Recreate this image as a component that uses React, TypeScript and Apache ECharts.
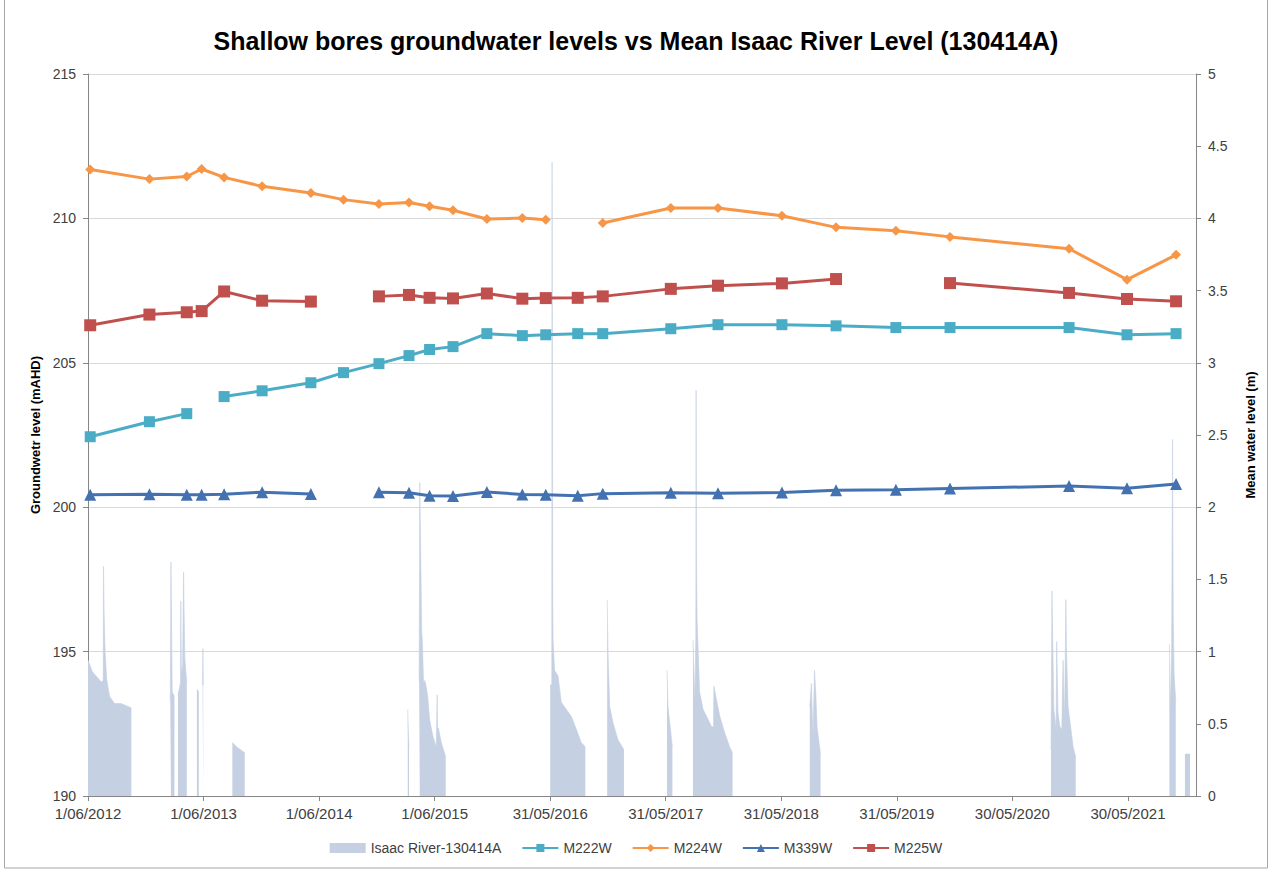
import React, { useEffect, useRef } from "react";
import * as echarts from "echarts";

// Days counted from 1 June 2012 (axis origin)
const BASE_DATE = Date.UTC(2012, 5, 1);
const DAY_MS = 86400000;
const X_MIN_DAY = 0;
const X_MAX_DAY = 3500;
const TICK_DAYS = 365;

const TITLE = "Shallow bores groundwater levels vs Mean Isaac River Level (130414A)";
const LEFT_AXIS_NAME = "Groundwetr level (mAHD)";
const RIGHT_AXIS_NAME = "Mean water level (m)";

const RIVER_NAME = "Isaac River-130414A";
const SERIES_NAMES = ["M222W", "M224W", "M339W", "M225W"];

// Monitoring dates (days since 1/06/2012)
const sampleDays = [7, 194, 312, 359, 430, 550, 704, 807, 919, 1014, 1079, 1153, 1260, 1372, 1446, 1547, 1626, 1841, 1990, 2192, 2363, 2552, 2723, 3099, 3282, 3437];

// Groundwater levels (mAHD)
const m222w = [202.44, 202.96, 203.24, null, 203.83, 204.03, 204.31, 204.66, 204.97, 205.25, 205.46, 205.56, 206.01, 205.94, 205.97, 206.01, 206.01, 206.18, 206.32, 206.32, 206.28, 206.22, 206.22, 206.22, 205.97, 206.01];
const m224w = [211.69, 211.36, 211.45, 211.71, 211.42, 211.11, 210.88, 210.65, 210.5, 210.55, 210.42, 210.28, 209.98, 210.01, 209.95, null, 209.84, 210.36, 210.36, 210.09, 209.69, 209.57, 209.36, 208.95, 207.88, 208.74];
const m339w = [200.43, 200.45, 200.43, 200.43, 200.45, 200.52, 200.46, null, 200.52, 200.5, 200.4, 200.39, 200.53, 200.44, 200.43, 200.4, 200.47, 200.5, 200.48, 200.51, 200.59, 200.6, 200.65, 200.73, 200.66, 200.8];
const m225w = [206.3, 206.67, 206.75, 206.79, 207.47, 207.15, 207.12, null, 207.3, 207.35, 207.25, 207.23, 207.4, 207.22, 207.24, 207.25, 207.3, 207.56, 207.67, 207.75, 207.9, null, 207.76, 207.42, 207.21, 207.13];

// Isaac River mean water level (m): flow events as [day, level]
const riverEvents: [number, number][][] = [
  [[0, 0.94], [14, 0.86], [42, 0.79], [48, 0.8], [49, 1.59], [51, 1.26], [54, 1.0], [59, 0.81], [68, 0.69], [84, 0.64], [105, 0.64], [137, 0.61]],
  [[260, 0.66], [262, 1.62], [264, 1.19], [266, 0.72], [273, 0.69]],
  [[284, 0.7], [290, 0.76], [292, 0.78], [293, 1.35], [295, 0.85], [299, 0.9], [301, 1.36], [302, 1.55], [303, 1.36], [306, 0.95], [312, 0.78]],
  [[344, 0.74], [350, 0.72]],
  [[362, 0.77], [363, 1.02], [364, 0.77]],
  [[456, 0.37], [470, 0.34], [495, 0.3]],
  [[1010, 0.6], [1012, 0.44], [1014, 0.34]],
  [[1046, 0.8], [1048, 2.17], [1049, 1.98], [1051, 1.69], [1054, 1.15], [1056, 1.08], [1060, 0.78], [1064, 0.8], [1069, 0.75], [1074, 0.67], [1079, 0.53], [1090, 0.41], [1100, 0.34], [1102, 0.34], [1103, 0.7], [1104, 0.47], [1107, 0.47], [1116, 0.37], [1130, 0.27]],
  [[1421, 0.28], [1422, 0.28]],
  [[1460, 0.77], [1465, 0.77], [1466, 4.39], [1467, 2.75], [1468, 1.39], [1469, 1.08], [1474, 0.87], [1485, 0.83], [1495, 0.65], [1511, 0.6], [1527, 0.55], [1543, 0.46], [1558, 0.37], [1571, 0.34]],
  [[1614, 0.35], [1615, 0.35]],
  [[1640, 1.36], [1643, 0.97], [1648, 0.62], [1658, 0.51], [1674, 0.39], [1693, 0.32]],
  [[1829, 0.87], [1832, 0.62], [1840, 0.46], [1846, 0.34]],
  [[1911, 1.08], [1917, 0.65], [1920, 1.1], [1921, 2.81], [1922, 1.64], [1924, 1.22], [1932, 0.72], [1943, 0.6], [1959, 0.53], [1970, 0.48], [1976, 0.48], [1977, 0.76], [1985, 0.67], [1996, 0.55], [2011, 0.44], [2027, 0.34], [2036, 0.3]],
  [[2280, 0.62], [2285, 0.78], [2290, 0.41], [2295, 0.87], [2299, 0.71], [2303, 0.48], [2308, 0.39], [2314, 0.29]],
  [[3042, 0.32], [3045, 1.42], [3047, 1.13], [3051, 0.6], [3058, 0.46], [3060, 1.07], [3064, 0.58], [3070, 0.48], [3076, 0.46], [3080, 0.94], [3085, 0.53], [3089, 1.36], [3091, 0.99], [3096, 0.62], [3104, 0.48], [3112, 0.34], [3120, 0.27]],
  [[3416, 1.05], [3419, 0.6], [3423, 0.99], [3426, 2.47], [3428, 1.26], [3431, 0.83], [3436, 0.66]],
  [[3465, 0.29], [3481, 0.29]],
];

const COLORS = {
  river: "#c5d0e3",
  M222W: "#4bacc6",
  M224W: "#f79646",
  M339W: "#4472b0",
  M225W: "#c0504d",
};

const NARROW = "'Liberation Sans Narrow', 'Liberation Sans', Arial, sans-serif";
const SANS = "'Liberation Sans', Arial, sans-serif";

function dayLabel(d: number): string {
  const dt = new Date(BASE_DATE + d * DAY_MS);
  const dd = dt.getUTCDate();
  const mm = String(dt.getUTCMonth() + 1).padStart(2, "0");
  return `${dd}/${mm}/${dt.getUTCFullYear()}`;
}

function pairs(values: (number | null)[]) {
  return sampleDays.map((d, i) => [d, values[i]]);
}

function riverData() {
  const out: any[] = [];
  riverEvents.forEach((ev, i) => {
    if (i > 0) out.push([ev[0][0] - 1, null]);
    ev.forEach((p) => out.push([p[0], p[1]]));
  });
  return out;
}

export default function App() {
  const ref = useRef<HTMLDivElement>(null);

  useEffect(() => {
    if (!ref.current) return;
    const chart = echarts.init(ref.current, null, { renderer: "svg" });

    const lineSeries = (name: string, values: (number | null)[], symbol: string, size: number | number[]) => ({
      name,
      type: "line",
      yAxisIndex: 0,
      data: pairs(values),
      connectNulls: false,
      symbol,
      symbolSize: size,
      showAllSymbol: true,
      color: (COLORS as any)[name],
      lineStyle: { width: 3, color: (COLORS as any)[name] },
      itemStyle: { color: (COLORS as any)[name] },
      z: 3,
    });

    chart.setOption({
      animation: false,
      backgroundColor: "#ffffff",
      title: {
        text: TITLE,
        left: "center",
        top: 23,
        textStyle: { fontFamily: SANS, fontSize: 25, fontWeight: "bold", color: "#000000" },
      },
      graphic: [
        {
          type: "rect",
          silent: true,
          shape: { x: 4.5, y: -1, width: 1263, height: 869 },
          style: { fill: "none", stroke: "#a6a6a6", lineWidth: 1 },
        },
      ],
      legend: {
        bottom: 12,
        left: "center",
        itemWidth: 36,
        itemHeight: 10,
        itemGap: 20,
        textStyle: { fontFamily: NARROW, fontSize: 14, color: "#404040" },
        data: [
          { name: RIVER_NAME, icon: "rect" },
          ...SERIES_NAMES.map((n) => ({ name: n })),
        ],
      },
      grid: { left: 88, right: 76, top: 74, bottom: 76 },
      xAxis: {
        type: "value",
        min: X_MIN_DAY,
        max: X_MAX_DAY,
        interval: TICK_DAYS,
        splitLine: { show: false },
        axisLine: { show: true, lineStyle: { color: "#868686", width: 1 } },
        axisTick: { show: true, inside: false, length: 5, lineStyle: { color: "#868686" } },
        axisLabel: {
          margin: 10,
          fontFamily: NARROW,
          fontSize: 15,
          color: "#404040",
          showMaxLabel: false,
          formatter: (v: number) => (v % TICK_DAYS === 0 ? dayLabel(v) : ""),
        },
      },
      yAxis: [
        {
          type: "value",
          min: 190,
          max: 215,
          interval: 5,
          name: LEFT_AXIS_NAME,
          nameLocation: "middle",
          nameGap: 44,
          nameTextStyle: { fontFamily: SANS, fontSize: 13, fontWeight: "bold", color: "#000000" },
          splitLine: { show: true, lineStyle: { color: "#d9d9d9", width: 1 } },
          axisLine: { show: true, lineStyle: { color: "#868686", width: 1 } },
          axisTick: { show: true, inside: false, length: 5, lineStyle: { color: "#868686" } },
          axisLabel: { margin: 12, fontFamily: SANS, fontSize: 14, color: "#404040" },
        },
        {
          type: "value",
          min: 0,
          max: 5,
          interval: 0.5,
          position: "right",
          name: RIGHT_AXIS_NAME,
          nameLocation: "middle",
          nameGap: 48,
          nameTextStyle: { fontFamily: NARROW, fontSize: 13, fontWeight: "bold", color: "#000000" },
          splitLine: { show: false },
          axisLine: { show: true, lineStyle: { color: "#868686", width: 1 } },
          axisTick: { show: true, inside: false, length: 5, lineStyle: { color: "#868686" } },
          axisLabel: { margin: 12, fontFamily: SANS, fontSize: 14, color: "#404040" },
        },
      ],
      series: [
        {
          name: RIVER_NAME,
          type: "line",
          yAxisIndex: 1,
          data: riverData(),
          connectNulls: false,
          symbol: "none",
          color: COLORS.river,
          itemStyle: { color: COLORS.river },
          lineStyle: { width: 0.6, color: COLORS.river },
          areaStyle: { color: COLORS.river, opacity: 1 },
          z: 1,
        },
        lineSeries("M222W", m222w, "rect", 11),
        lineSeries("M224W", m224w, "diamond", 10),
        lineSeries("M339W", m339w, "triangle", 12),
        lineSeries("M225W", m225w, "rect", 12),
      ],
    });

    return () => chart.dispose();
  }, []);

  return (
    <div
      ref={ref}
      style={{ position: "fixed", left: 0, top: 0, width: 1272, height: 872, background: "#fff" }}
    />
  );
}
